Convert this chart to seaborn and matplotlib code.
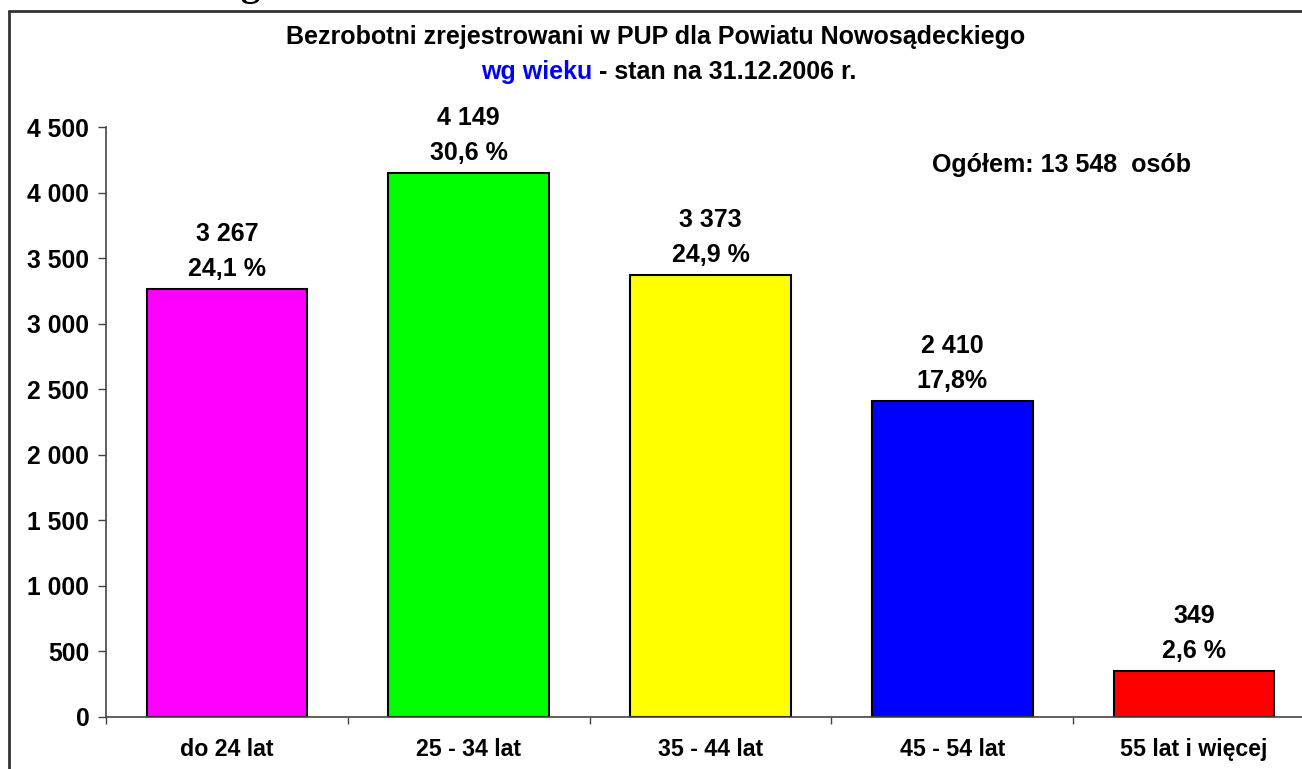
import matplotlib
matplotlib.use("Agg")
import matplotlib.pyplot as plt
from matplotlib.lines import Line2D
from matplotlib.ticker import FuncFormatter, FixedLocator
import numpy as np
import pandas as pd
import seaborn as sns

# Dane
kategorie = ["do 24 lat", "25 - 34 lat", "35 - 44 lat", "45 - 54 lat", "55 lat i więcej"]
wartosci = [3267, 4149, 3373, 2410, 349]
procenty = ["24,1 %", "30,6 %", "24,9 %", "17,8%", "2,6 %"]
kolory = ["#FF00FF", "#00FF00", "#FFFF00", "#0000FF", "#FF0000"]
y_ticks = [0, 500, 1000, 1500, 2000, 2500, 3000, 3500, 4000, 4500]

W, H = 1302, 769

sns.set_style("white")
plt.rcParams["font.family"] = ["Liberation Sans", "DejaVu Sans"]
plt.rcParams["font.weight"] = "bold"
plt.rcParams["text.color"] = "black"
plt.rcParams["xtick.color"] = "black"
plt.rcParams["ytick.color"] = "black"

df = pd.DataFrame({"wiek": kategorie, "liczba": wartosci})

fig = plt.figure(figsize=(W / 100, H / 100), dpi=100)
# osie wychodzą poza prawą krawędź, jak w oryginale
ax = fig.add_axes([106 / W, 1 - 717 / H, (1315 - 106) / W, (717 - 127) / H])

sns.barplot(data=df, x="wiek", y="liczba", hue="wiek", palette=kolory,
            legend=False, width=0.665, edgecolor="black", linewidth=1.5,
            saturation=1, ax=ax)

ax.set_xlim(-0.5, 4.5)
ax.set_ylim(0, 4500)
ax.set_xlabel("")
ax.set_ylabel("")

# oś Y
ax.yaxis.set_major_locator(FixedLocator(y_ticks))
ax.yaxis.set_major_formatter(FuncFormatter(lambda v, p: f"{v:,.0f}".replace(",", " ")))
ax.tick_params(axis="y", direction="out", length=6, width=1, color="#444444",
               labelsize=17.8, pad=6, left=True, labelcolor="black")
# oś X - znaczniki między kategoriami
ax.set_xticks(range(len(kategorie)))
ax.set_xticklabels(kategorie)
ax.set_xticks(np.arange(-0.5, 5, 1.0), minor=True)
ax.tick_params(axis="x", which="major", length=0, labelsize=16.7, pad=15,
               labelcolor="black")
ax.tick_params(axis="x", which="minor", direction="out", length=5, width=1,
               color="#444444", bottom=True)
for lab in ax.get_xticklabels() + ax.get_yticklabels():
    lab.set_fontweight("bold")

for s in ["top", "right"]:
    ax.spines[s].set_visible(False)
for s in ["left", "bottom"]:
    ax.spines[s].set_color("#444444")
    ax.spines[s].set_linewidth(1.2)

# etykiety nad słupkami
for i, (v, p) in enumerate(zip(wartosci, procenty)):
    ax.annotate(p, (i, v), xytext=(0, 20), textcoords="offset pixels",
                ha="center", va="center", fontsize=18, fontweight="bold")
    ax.annotate(f"{v:,}".replace(",", " "), (i, v), xytext=(0, 55),
                textcoords="offset pixels", ha="center", va="center",
                fontsize=18, fontweight="bold")

# tytuł
fig.text(656 / W, 1 - 37 / H, "Bezrobotni zrejestrowani w PUP dla Powiatu Nowosądeckiego",
         ha="center", va="center", fontsize=18, fontweight="bold")
fig.text(592 / W, 1 - 72 / H, "wg wieku", color="#0000FF",
         ha="right", va="center", fontsize=18, fontweight="bold")
fig.text(592 / W, 1 - 72 / H, " - stan na 31.12.2006 r.", color="black",
         ha="left", va="center", fontsize=18, fontweight="bold")

fig.text(1061 / W, 1 - 165 / H, "Ogółem: 13 548  osób",
         ha="center", va="center", fontsize=18, fontweight="bold")

# ramka wykresu (górna i lewa krawędź)
fig.add_artist(Line2D([9 / W, 1], [1 - 11 / H, 1 - 11 / H], color="#333333", lw=2))
fig.add_artist(Line2D([9 / W, 9 / W], [0, 1 - 11 / H], color="#333333", lw=2))

# ucięty fragment tekstu nad ramką (widoczny tylko dół litery)
fig.text(251 / W, 1 + 5 / H, "g", ha="center", va="baseline",
         fontsize=28, fontweight="bold", family="Liberation Serif")

fig.savefig("out.png", dpi=100)
